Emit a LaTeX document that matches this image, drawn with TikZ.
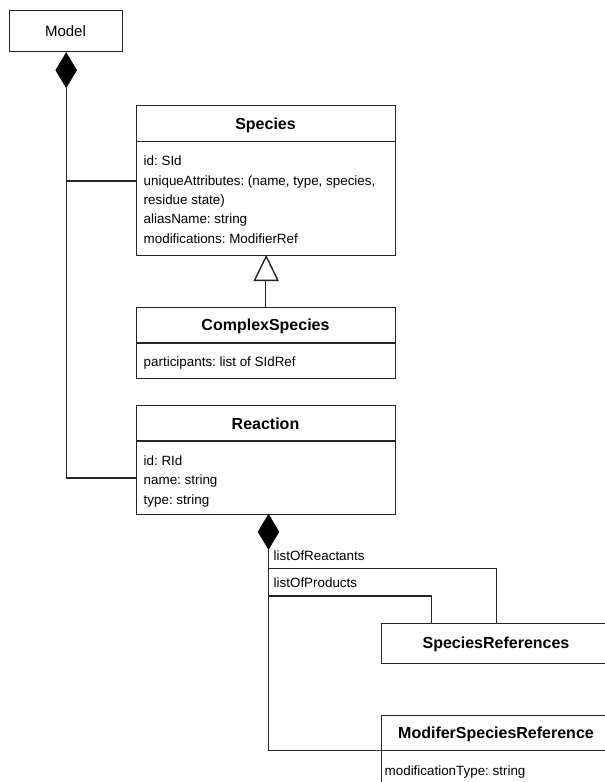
\documentclass[tikz,border=0pt]{standalone}
\usepackage{fontspec}
\setmainfont{Liberation Sans}
\usetikzlibrary{shapes.geometric}
\frenchspacing
\begin{document}
\begin{tikzpicture}[x=1pt,y=-1pt,line width=1.4pt,
  umlbox/.style={draw=black!85,fill=white,rectangle,inner sep=0pt,anchor=north west},
  comp/.style={diamond,draw=black,fill=black,inner sep=0pt,minimum width=21pt,minimum height=35pt,anchor=north,line width=0.6pt},
  wire/.style={draw=black!85,line width=1.4pt},
  title/.style={anchor=base,inner sep=0pt,font=\fontsize{16}{19}\selectfont\bfseries},
  attr/.style={anchor=base west,inner sep=0pt,font=\fontsize{13.4}{16}\selectfont},
  plain/.style={anchor=base,inner sep=0pt,font=\fontsize{15}{18}\selectfont}]
\clip (0,0) rectangle (605,782);
\fill[white] (0,0) rectangle (605,782);

% Model
\node[umlbox,minimum width=113pt,minimum height=41pt] (model) at (9,10) {};
\node[plain] (modelt) at (65.5,36) {Model};
\node[comp] (d1) at (model.south) {};

% Species
\node[umlbox,minimum width=259pt,minimum height=150pt] (species) at (136,105) {};
\draw[wire] (species.north west) ++(0,36.5) coordinate (sh1) -- (sh1 -| species.east);
\node[title] (speciest) at (265.5,129.5) {Species};
\node[attr] (sa1) at (143,165.5) {id: SId};
\node[attr] (sa2) at (143,185) {uniqueAttributes: (name, type, species,};
\node[attr] (sa3) at (143,204.5) {residue state)};
\node[attr] (sa4) at (143,223.5) {aliasName: string};
\node[attr] (sa5) at (143,243) {modifications: ModifierRef};

% ComplexSpecies
\node[umlbox,minimum width=259pt,minimum height=71pt] (complex) at (136,307) {};
\draw[wire] (complex.north west) ++(0,36) coordinate (ch1) -- (ch1 -| complex.east);
\node[title] (complext) at (265.5,330.5) {ComplexSpecies};
\node[attr] (ca1) at (143,366.5) {participants: list of SIdRef};

% generalisation arrow
\coordinate (gbase) at (265.5,280);
\draw[wire] (gbase) -- (gbase |- complex.north);
\draw[wire,fill=white,line join=miter] (species.south) -- ++(-11.7,24) -- ++(23.4,0) -- cycle;

% Reaction
\node[umlbox,minimum width=259pt,minimum height=109pt] (reaction) at (136,405) {};
\draw[wire] (reaction.north west) ++(0,36) coordinate (rh1) -- (rh1 -| reaction.east);
\node[title] (reactiont) at (265.5,429) {Reaction};
\node[attr] (ra1) at (143,465) {id: RId};
\node[attr] (ra2) at (143,484.5) {name: string};
\node[attr] (ra3) at (143,504) {type: string};

% Model composition
\coordinate (sjoin) at (136,181);
\coordinate (rjoin) at (136,478);
\draw[wire] (d1.south) |- (rjoin);
\draw[wire] (d1.south |- sjoin) -- (sjoin);

% SpeciesReferences
\node[umlbox,minimum width=230pt,minimum height=40pt] (specref) at (381,623) {};
\node[title] (specreft) at (496,648.3) {SpeciesReferences};

% ModiferSpeciesReference
\node[umlbox,minimum width=230pt,minimum height=110pt] (modref) at (381,715) {};
\draw[wire] (modref.north west) ++(0,35.5) coordinate (mh1) -- (mh1 -| modref.east);
\node[title] (modreft) at (496,738.3) {ModiferSpeciesReference};
\node[attr] (ma1) at (384,775) {modificationType: string};

% Reaction composition
\node[comp] (d2) at (268.5,514) {};
\coordinate (reacttop) at (496.5,623);
\coordinate (prodtop) at (431.5,623);
\draw[wire] (d2.south) |- (mh1);
\draw[wire] (d2.south |- 0,568.3) -| (reacttop);
\draw[wire] (d2.south |- 0,596) -| (prodtop);
\node[attr] (lreact) at (273,560) {listOfReactants};
\node[attr] (lprod) at (273,587.5) {listOfProducts};
\end{tikzpicture}
\end{document}
